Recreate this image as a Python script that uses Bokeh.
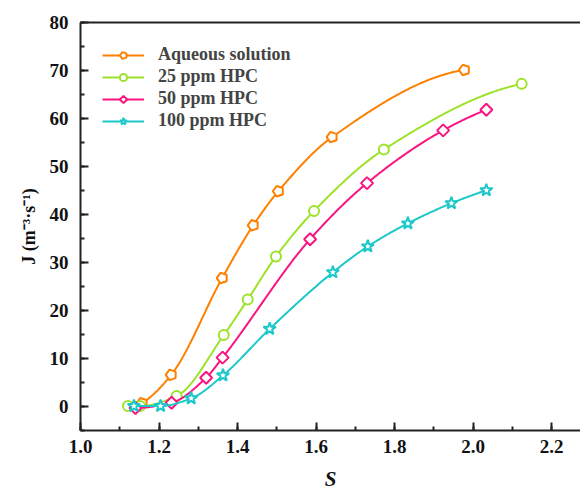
import numpy as np
from bokeh.plotting import figure
from bokeh.models import (Range1d, LinearAxis, FixedTicker, Legend, LegendItem,
                          SingleIntervalTicker, CustomJSTickFormatter)
from bokeh.embed import file_html
from bokeh.resources import INLINE

# ---- data ----
s_aq = [1.157, 1.231, 1.361, 1.440, 1.504, 1.641, 1.978]
j_aq = [0.6, 6.5, 26.7, 37.7, 44.8, 56.1, 70.1]

s_25 = [1.121, 1.152, 1.245, 1.365, 1.426, 1.498, 1.595, 1.773, 2.124]
j_25 = [0.0, 0.0, 2.1, 14.8, 22.2, 31.2, 40.7, 53.5, 67.2]

s_50 = [1.140, 1.232, 1.320, 1.362, 1.585, 1.730, 1.924, 2.034]
j_50 = [-0.4, 0.7, 5.9, 10.1, 34.8, 46.5, 57.5, 61.8]

s_100 = [1.136, 1.204, 1.282, 1.363, 1.482, 1.643, 1.732, 1.834, 1.945, 2.034]
j_100 = [0.0, 0.0, 1.6, 6.4, 16.1, 27.9, 33.3, 38.1, 42.3, 45.0]

labels = ["Aqueous solution", "25 ppm HPC", "50 ppm HPC", "100 ppm HPC"]
colors = ["#FF7F00", "#9DE22B", "#FA1480", "#1CC8CA"]
markers = ["pentagon", "circle", "diamond", "star"]


def pchip_curve(x, y, n=300):
    x = np.asarray(x, float)
    y = np.asarray(y, float)
    h = np.diff(x)
    d = np.diff(y) / h
    m = np.zeros_like(x)
    for k in range(1, len(x) - 1):
        if d[k - 1] * d[k] <= 0:
            m[k] = 0.0
        else:
            w1 = 2 * h[k] + h[k - 1]
            w2 = h[k] + 2 * h[k - 1]
            m[k] = (w1 + w2) / (w1 / d[k - 1] + w2 / d[k])

    def end(h0, h1, d0, d1):
        mm = ((2 * h0 + h1) * d0 - h0 * d1) / (h0 + h1)
        if np.sign(mm) != np.sign(d0):
            mm = 0.0
        elif np.sign(d0) != np.sign(d1) and abs(mm) > abs(3 * d0):
            mm = 3 * d0
        return mm

    m[0] = end(h[0], h[1], d[0], d[1])
    m[-1] = end(h[-1], h[-2], d[-1], d[-2])
    xs = np.linspace(x[0], x[-1], n)
    idx = np.clip(np.searchsorted(x, xs) - 1, 0, len(x) - 2)
    t = (xs - x[idx]) / h[idx]
    h00 = 2 * t**3 - 3 * t**2 + 1
    h10 = t**3 - 2 * t**2 + t
    h01 = -2 * t**3 + 3 * t**2
    h11 = t**3 - t**2
    ys = h00 * y[idx] + h10 * h[idx] * m[idx] + h01 * y[idx + 1] + h11 * h[idx] * m[idx + 1]
    return xs, ys


FONT = "Liberation Serif"

p = figure(width=580, height=493, output_backend="svg", toolbar_location=None,
           x_range=Range1d(1.0, 1.0 + 500 / 392.5), y_range=Range1d(-5.1, 80),
           min_border_left=80, min_border_right=0, min_border_top=22, min_border_bottom=61)
p.xgrid.visible = False
p.ygrid.visible = False
p.outline_line_color = None
p.background_fill_color = "white"

items = []
series = [(s_aq, j_aq), (s_25, j_25), (s_50, j_50), (s_100, j_100)]
for (sx, jy), lab, col, mk in zip(series, labels, colors, markers):
    cx, cy = pchip_curve(sx, jy)
    lr = p.line(cx, cy, line_color=col, line_width=2)
    if mk in ("pentagon", "diamond"):
        nside = 5 if mk == "pentagon" else 4
        rad = 5.5 if mk == "pentagon" else 6
        try:
            sr = p.ngon(x=sx, y=jy, radius=rad, radius_units="screen", n=nside, angle=np.pi / 2,
                        fill_color="white", line_color=col, line_width=2)
        except Exception:
            sr = p.scatter(sx, jy, marker="hex" if nside == 5 else "diamond", size=11,
                           fill_color="white", line_color=col, line_width=2)
    elif mk == "star":
        sr = p.scatter(sx, jy, marker="star", size=13, fill_color="white",
                       line_color=col, line_width=2)
    else:
        sr = p.scatter(sx, jy, marker="circle", size=10, fill_color="white",
                       line_color=col, line_width=2)
    items.append(LegendItem(label=lab, renderers=[lr, sr]))

legend = Legend(items=items, location="top_left", margin=22, padding=15,
                glyph_width=42, glyph_height=18, label_height=18, spacing=1,
                label_standoff=14, label_text_font=FONT, label_text_font_style="bold",
                label_text_font_size="18px", border_line_color=None,
                background_fill_alpha=0)
p.add_layout(legend)

for ax in (p.xaxis[0], p.yaxis[0]):
    ax.axis_line_width = 2
    ax.axis_line_color = "#222222"
    ax.major_tick_line_width = 2
    ax.minor_tick_line_width = 2
    ax.major_tick_line_color = "#222222"
    ax.minor_tick_line_color = "#222222"
    ax.major_tick_in = 8
    ax.major_tick_out = 0
    ax.minor_tick_in = 4
    ax.minor_tick_out = 0
    ax.major_label_text_font = FONT
    ax.major_label_text_font_style = "bold"
    ax.major_label_text_font_size = "19px"
    ax.major_label_text_color = "#111111"
    ax.axis_label_text_font = FONT
    ax.axis_label_text_color = "#111111"

p.xaxis[0].ticker = SingleIntervalTicker(interval=0.2, num_minor_ticks=2)
p.yaxis[0].ticker = SingleIntervalTicker(interval=10, num_minor_ticks=2)
p.xaxis[0].formatter = CustomJSTickFormatter(code="return tick.toFixed(1);")
p.yaxis[0].formatter = CustomJSTickFormatter(code="return tick.toFixed(0);")
p.xaxis[0].major_label_standoff = 9
p.yaxis[0].major_label_standoff = 12

p.xaxis[0].axis_label = "S"
p.xaxis[0].axis_label_text_font_style = "bold italic"
p.xaxis[0].axis_label_text_font_size = "21px"
p.xaxis[0].axis_label_standoff = 11

p.yaxis[0].axis_label = "J (m\u207b\u00b3\u00b7s\u207b\u00b9)"
p.yaxis[0].axis_label_text_font_style = "bold"
p.yaxis[0].axis_label_text_font_size = "18px"
p.yaxis[0].axis_label_standoff = 8

top = LinearAxis(ticker=FixedTicker(ticks=[]), major_label_text_font_size="0px",
                 axis_line_width=2, axis_line_color="#222222",
                 major_tick_line_color=None, minor_tick_line_color=None)
p.add_layout(top, "above")

open("out.html", "w").write(file_html(p, INLINE))
